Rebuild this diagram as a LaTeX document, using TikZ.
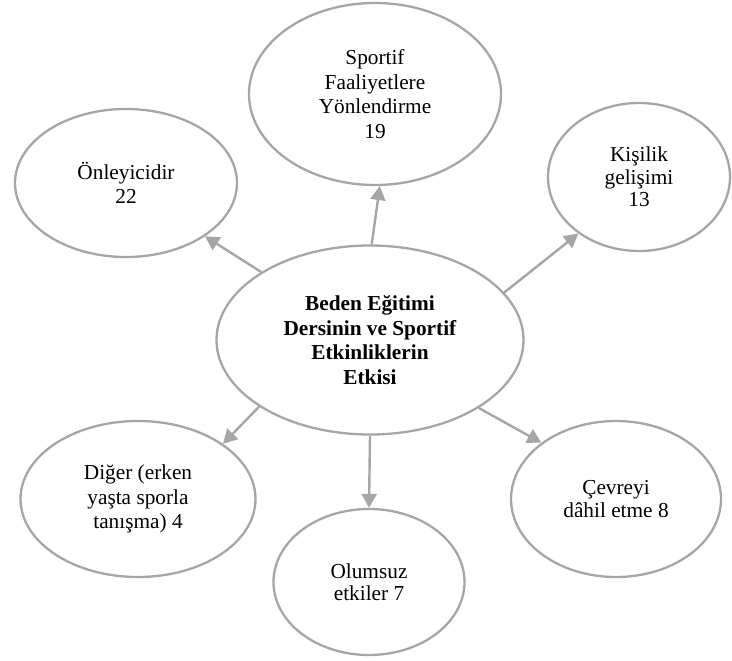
\documentclass[tikz,border=0pt]{standalone}
\usepackage{fontspec}
\setmainfont{Liberation Serif}
\usetikzlibrary{shapes.geometric,arrows.meta}
\definecolor{edgegray}{RGB}{166,166,166}
\tikzset{
  bubble/.style={ellipse, draw=edgegray, line width=2.3bp, inner sep=0pt, align=center,
    font=\fontsize{21.3bp}{24.5bp}\selectfont},
  link/.style={draw=edgegray, line width=2.4bp, -{Triangle[length=14bp,width=15bp]}}
}
\begin{document}
\begin{tikzpicture}[x=1bp,y=-1bp]
\useasboundingbox (0,0) rectangle (732,661);
\node[bubble, minimum width=307bp, minimum height=189bp] (c) at (370,340)
  {\textbf{Beden Eğitimi}\\\textbf{Dersinin ve Sportif}\\\textbf{Etkinliklerin}\\\textbf{Etkisi}};
\node[bubble, minimum width=252bp, minimum height=182bp] (t) at (375,94)
  {Sportif\\Faaliyetlere\\Yönlendirme\\19};
\node[bubble, minimum width=222bp, minimum height=148bp] (o) at (126,183)
  {Önleyicidir\\22};
\node[bubble, minimum width=182bp, minimum height=148bp, font=\fontsize{21.3bp}{22.7bp}\selectfont] (k) at (639,177)
  {Kişilik\\gelişimi\\13};
\node[bubble, minimum width=235bp, minimum height=156bp] (d) at (138,499)
  {Diğer (erken\\yaşta sporla\\tanışma) 4};
\node[bubble, minimum width=191bp, minimum height=146bp, font=\fontsize{21.3bp}{21.5bp}\selectfont] (u) at (369,582)
  {Olumsuz\\etkiler 7};
\node[bubble, minimum width=210bp, minimum height=156bp, font=\fontsize{21.3bp}{23.7bp}\selectfont] (e) at (616,499)
  {Çevreyi\\dâhil etme 8};
\draw[link] (c.148) -- (o.326);
\draw[link] (c.89.4) -- (t.273.7);
\draw[link] ([shift={(5bp,-8bp)}]c.23) -- (k.223);
\draw[link] (c.211.7) -- (d.33.7);
\draw[link] (c.270) -- (u.90);
\draw[link] (c.328.4) -- (e.143.3);
\end{tikzpicture}
\end{document}
